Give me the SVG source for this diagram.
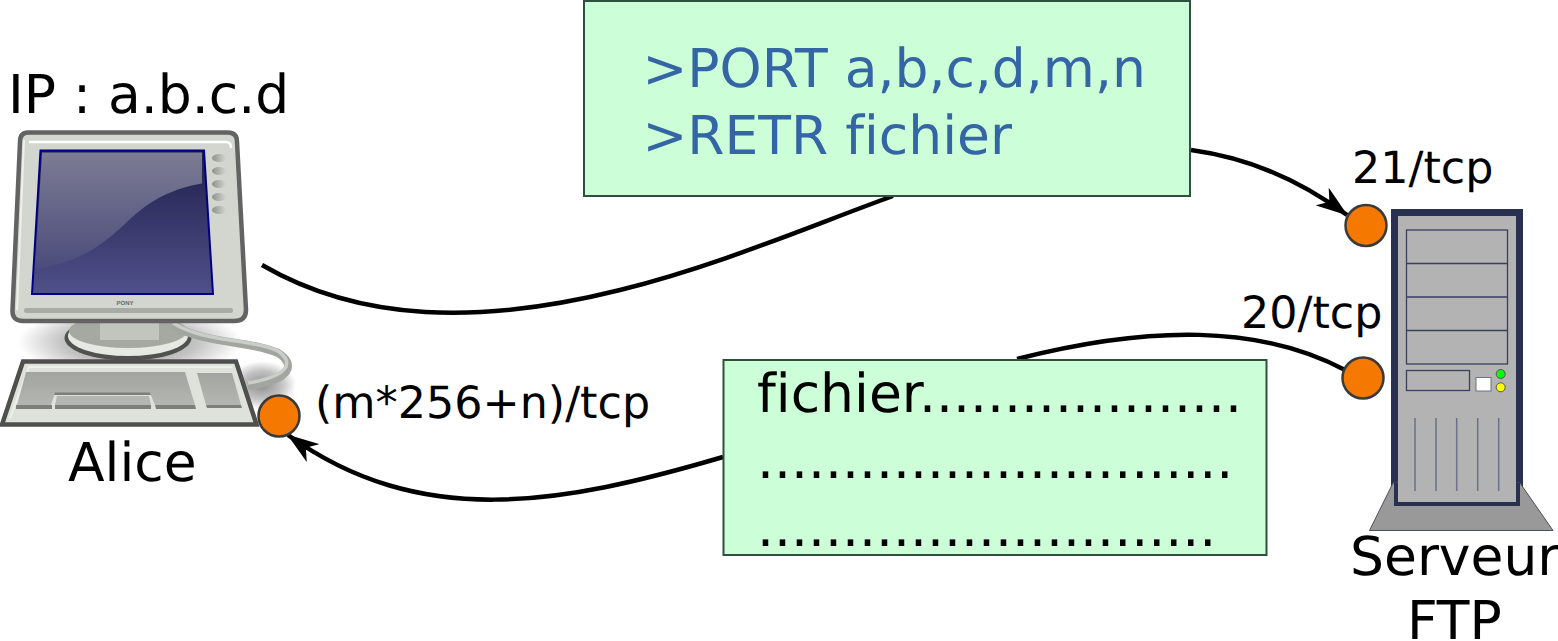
<svg xmlns="http://www.w3.org/2000/svg" width="1558" height="641" viewBox="0 0 1558 641">
<style>
text{font-family:"DejaVu Sans",sans-serif;fill:#000;font-variant-ligatures:none;text-rendering:geometricPrecision}
.box{fill:#ccffd8;stroke:#2f4f3f;stroke-width:2}
.port{fill:#f57900;stroke:#3a3a3a;stroke-width:2.5}
.conn{fill:none;stroke:#000;stroke-width:4.500}
.cmd{font-size:53.500px;fill:#3465a4}
.lbl{font-size:44.400px}
.big{font-size:53.500px}
.bay{fill:none;stroke:#3a4060;stroke-width:1.3}
.vent{stroke:#6c7088;stroke-width:1.5}
.btn{fill:url(#btn)}
.kstrip{fill:#7d7f7a}
</style>
<defs>
<marker id="arr" viewBox="0 0 32 22" refX="31" refY="11" markerWidth="32" markerHeight="22" markerUnits="userSpaceOnUse" orient="auto"><path d="M0 0L32 11L0 22L9 11Z" fill="#000"/></marker>
<linearGradient id="scr" x1="0" y1="0" x2="0" y2="1"><stop offset="0" stop-color="#1f1f4c"/><stop offset="1" stop-color="#50508a"/></linearGradient>
<linearGradient id="gloss" x1="0" y1="0" x2="0" y2="1"><stop offset="0" stop-color="#7c7c94"/><stop offset="1" stop-color="#4c4c7c"/></linearGradient>
<linearGradient id="keys" x1="0" y1="0" x2="0" y2="1"><stop offset="0" stop-color="#a2a4a0"/><stop offset="1" stop-color="#b4b6b2"/></linearGradient>
<linearGradient id="btn" x1="0" y1="0" x2="1" y2="0"><stop offset="0" stop-color="#8f918c"/><stop offset="1" stop-color="#d3d5cf"/></linearGradient>
<radialGradient id="shadow"><stop offset="0" stop-color="#777" stop-opacity=".85"/><stop offset=".6" stop-color="#888" stop-opacity=".5"/><stop offset="1" stop-color="#888" stop-opacity="0"/></radialGradient>
</defs>

<g id="connectors">
<path class="conn" d="M262 265C360 322 480 325 620 290C720 265 810 226 893 196"/>
<path class="conn" d="M1191 150C1250 158 1300 180 1347 215" marker-end="url(#arr)"/>
<path class="conn" d="M1017 359C1150 325 1260 325 1345 370"/>
<path class="conn" d="M723 457C560 505 420 530 288 435" marker-end="url(#arr)"/>
</g>

<g id="alice">
<ellipse cx="130" cy="342" rx="112" ry="36" fill="url(#shadow)"/>
<ellipse cx="262" cy="385" rx="34" ry="24" fill="url(#shadow)"/>
<ellipse cx="128" cy="338" rx="63.500" ry="22.500" fill="#505250"/>
<ellipse cx="128" cy="336" rx="60" ry="20" fill="#e6e8e2"/>
<ellipse cx="128" cy="331" rx="59" ry="17" fill="#a6a8a2"/>
<rect x="100" y="320" width="59" height="20" fill="#c2c4be"/>
<path d="M173 325C205 345 250 340 278 353C296 364 292 380 248 386" fill="none" stroke="#a3a5a1" stroke-width="8"/>
<path d="M173 323C205 343 250 338 278 351C294 362 290 376 248 383" fill="none" stroke="#cbcdc8" stroke-width="3.500"/>
<path d="M28 132.500H228Q237 132.500 237 142L246 310Q246 321 234 321H23Q12 321 12.500 310L20 142Q20 132.500 28 132.500Z" fill="#d3d5cf" stroke="#626362" stroke-width="4.500"/>
<path d="M29 142H226Q231 142 231 148" fill="none" stroke="#fff" stroke-width="2.500"/>
<path d="M24 140L17 310" fill="none" stroke="#eeefeb" stroke-width="2"/>
<path d="M40.500 150.500H204L213 294H32Z" fill="url(#scr)" stroke="#000080" stroke-width="2"/>
<path d="M42 152.500H202L202 183.500C165 190 145 205 127 222C105 243 80 263 35 269Z" fill="url(#gloss)"/>
<ellipse cx="219" cy="158" rx="7" ry="4" class="btn"/>
<ellipse cx="219" cy="171" rx="7" ry="4" class="btn"/>
<ellipse cx="219" cy="184" rx="7" ry="4" class="btn"/>
<ellipse cx="219" cy="197" rx="7" ry="4" class="btn"/>
<ellipse cx="219" cy="210" rx="7" ry="4" class="btn"/>
<text x="125" y="305" font-size="6" font-weight="bold" text-anchor="middle" style="font-family:'Liberation Sans',sans-serif;fill:#666">PONY</text>
<rect x="24" y="308" width="209" height="5" rx="2.500" fill="#a9aba5"/>
<path d="M23 361.500H236L256.500 424.500H2Z" fill="#dfe2da" stroke="#4f504e" stroke-width="4.500"/>
<path d="M10 418L29 367H232" fill="none" stroke="#eef0ea" stroke-width="2"/>
<path d="M26 372H185L195 405H155L150 393H55L51 405H17Z" fill="url(#keys)"/>
<rect x="16" y="405" width="36" height="4" class="kstrip"/>
<path d="M155 405H195L196 409H156Z" class="kstrip"/>
<path d="M55 392.500H150L151 395H54Z" class="kstrip"/>
<path d="M57 396H149L151 405H55Z" fill="#b4b6b2"/>
<rect x="55" y="405" width="96" height="4" class="kstrip"/>
<path d="M197 373H232L241 405H206Z" fill="url(#keys)"/>
<path d="M206 405H241L242 408H207Z" class="kstrip"/>
</g>

<g id="server">
<rect x="1391" y="209" width="132" height="281" fill="#2a304f"/>
<path d="M1393 483L1369.500 530.500H1553L1520 483Z" fill="#999" stroke="#4a4f68" stroke-width="1"/>
<rect x="1394" y="483" width="126" height="23" fill="#2a304f"/>
<rect x="1398" y="216" width="118" height="286" fill="#b3b3b3"/>
<rect x="1406.500" y="230" width="101" height="134" class="bay"/>
<path class="bay" d="M1407 263.500H1507M1407 297H1507M1407 330.500H1507"/>
<rect x="1406.500" y="370.500" width="63" height="20" class="bay"/>
<rect x="1476" y="377.500" width="15" height="13.500" fill="#fff" stroke="#6c7088"/>
<circle cx="1500.700" cy="374" r="4.500" fill="#0f0" stroke="#555"/>
<circle cx="1500.700" cy="387.300" r="4.500" fill="#ff0" stroke="#555"/>
<path class="vent" d="M1415 418V491M1436 418V491M1456.700 418V491M1477.700 418V491M1498.700 418V491"/>
</g>

<g id="port-21"><circle class="port" cx="1366" cy="225.500" r="20.500"/></g>
<g id="port-20"><circle class="port" cx="1363" cy="378" r="20.500"/></g>
<g id="port-alice"><circle class="port" cx="279" cy="416" r="20.500"/></g>

<g id="box-control">
<rect class="box" x="584" y="1" width="606" height="195"/>
<text class="cmd" x="642.500" y="87">&gt;PORT a,b,c,d,m,n</text>
<text class="cmd" x="642.500" y="154">&gt;RETR fichier</text>
</g>
<g id="box-data">
<rect class="box" x="723.500" y="360" width="543" height="195"/>
<text class="big" x="757" y="412">fichier...................</text>
<text class="big" x="757" y="478">............................</text>
<text class="big" x="757" y="546">...........................</text>
</g>

<g id="labels">
<text class="big" x="8" y="113">IP : a.b.c.d</text>
<text class="big" x="68" y="481">Alice</text>
<text class="lbl" x="315" y="418">(m*256+n)/tcp</text>
<text class="lbl" x="1352" y="183">21/tcp</text>
<text class="lbl" x="1241" y="328">20/tcp</text>
<text class="big" x="1350" y="575">Serveur</text>
<text class="big" x="1407" y="639">FTP</text>
</g>
</svg>
